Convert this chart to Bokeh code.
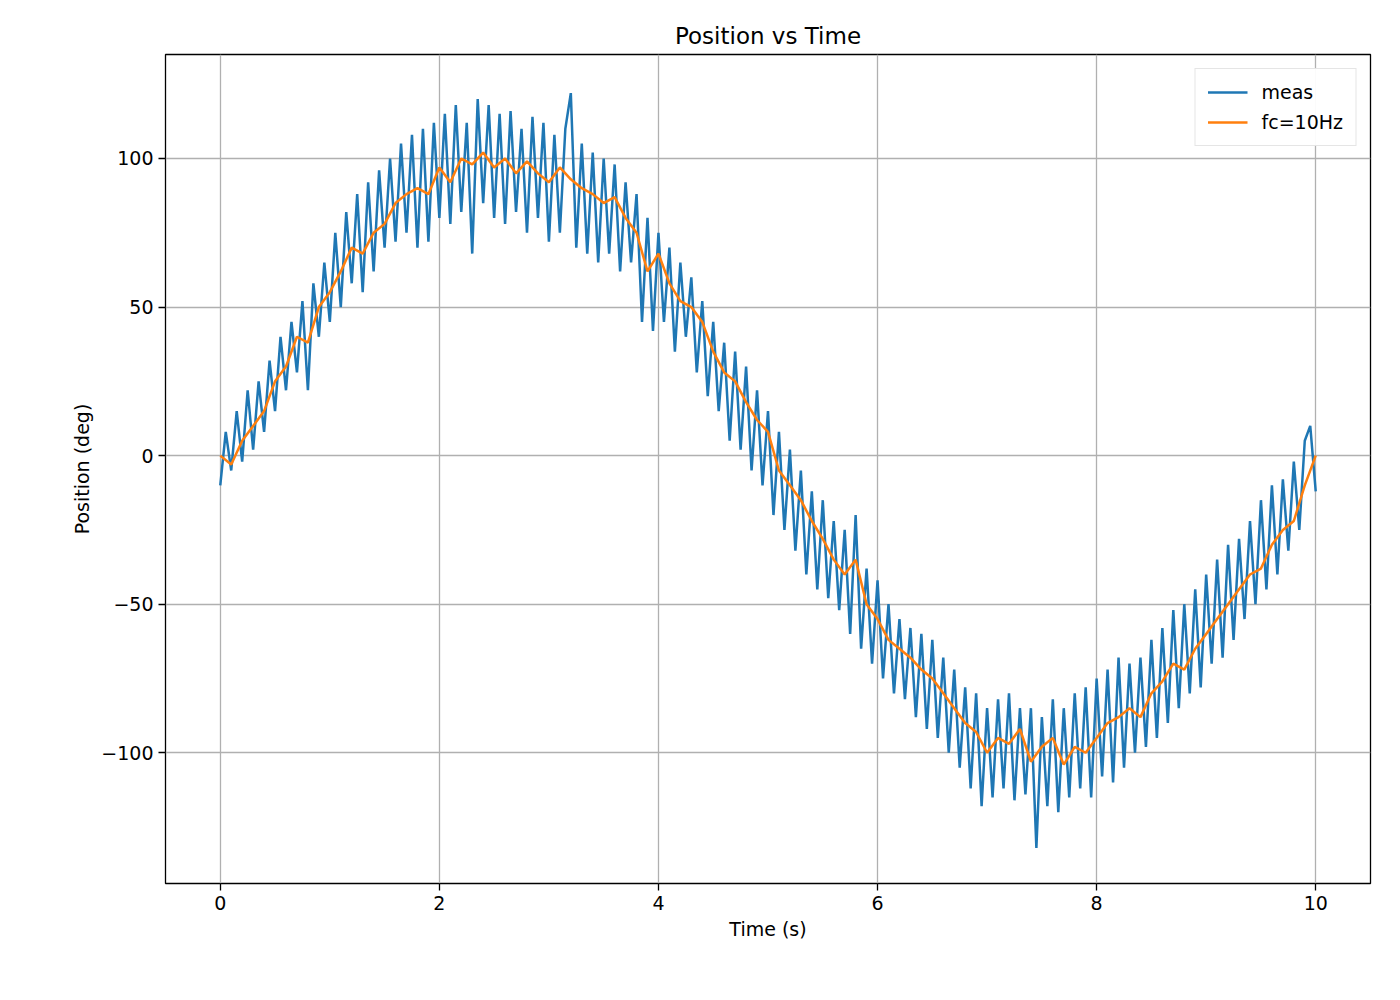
import numpy as np
from bokeh.plotting import figure
from bokeh.models import Legend, LegendItem
from bokeh.embed import file_html
from bokeh.resources import INLINE

meas = [-10, 8, -5, 15, -2, 22, 2, 25, 8, 32, 15, 40, 22, 45, 28, 52, 22, 58, 40, 65,
        45, 75, 50, 82, 58, 88, 55, 92, 62, 96, 70, 100, 72, 105, 75, 108, 70, 110, 72, 112,
        80, 115, 78, 118, 82, 112, 68, 120, 85, 118, 80, 115, 78, 116, 82, 110, 75, 114, 80, 112,
        72, 108, 75, 110, 122, 70, 105, 68, 102, 65, 100, 68, 98, 62, 92, 65, 88, 45, 80, 42,
        75, 45, 70, 35, 65, 40, 60, 28, 52, 20, 45, 15, 38, 5, 35, 2, 30, -5, 22, -10,
        15, -20, 8, -25, 2, -32, -5, -40, -12, -45, -15, -48, -22, -52, -25, -60, -20, -65, -38, -70,
        -42, -75, -50, -80, -55, -82, -58, -88, -60, -92, -62, -95, -68, -100, -72, -105, -78, -112, -80, -118,
        -85, -115, -82, -112, -80, -116, -85, -114, -85, -132, -88, -118, -82, -120, -85, -115, -80, -112, -78, -115,
        -75, -108, -72, -110, -68, -105, -70, -100, -68, -98, -62, -95, -58, -90, -52, -85, -50, -80, -45, -78,
        -40, -70, -35, -68, -30, -62, -28, -55, -22, -50, -15, -45, -10, -40, -8, -32, -2, -25, 5, 10,
        -12]

# low-pass filtered (fc=10Hz), sampled every 0.1 s
filt = [0, -3, 5, 10, 15, 25, 30, 40, 38, 50, 55, 62, 70, 68, 75, 78, 85, 88, 90, 88,
        97, 92, 100, 98, 102, 97, 100, 95, 99, 95, 92, 97, 93, 90, 88, 85, 87, 80, 75, 62,
        68, 58, 52, 50, 45, 35, 28, 25, 18, 12, 8, -5, -10, -15, -22, -28, -35, -40, -35, -50,
        -55, -62, -65, -68, -72, -75, -80, -85, -90, -93, -100, -95, -97, -92, -103, -98, -95, -104, -98, -100,
        -95, -90, -88, -85, -88, -80, -76, -70, -72, -65, -60, -55, -50, -45, -40, -38, -30, -25, -22, -10,
        0]

x_ticks = [0, 2, 4, 6, 8, 10]
y_ticks = [-100, -50, 0, 50, 100]

t_meas = np.linspace(0, 10, len(meas))
t_filt = np.linspace(0, 10, len(filt))

FONT = "DejaVu Sans"

p = figure(width=1384, height=984, x_range=(-0.5, 10.5), y_range=(-144, 135),
           output_backend="svg", toolbar_location=None,
           title="Position vs Time", min_border_left=165, min_border_right=14,
           min_border_bottom=101, min_border_top=54)
p.title.align = "center"
p.title.text_font = FONT
p.title.text_font_size = "23px"
p.title.text_font_style = "normal"
p.title.text_color = "black"
p.title.standoff = 12
p.outline_line_color = "black"
p.outline_line_width = 1.3

l1 = p.line(t_meas, meas, line_color="#1f77b4", line_width=2.5)
l2 = p.line(t_filt, filt, line_color="#ff7f0e", line_width=2.5)

legend = Legend(items=[LegendItem(label="meas", renderers=[l1]),
                       LegendItem(label="fc=10Hz", renderers=[l2])],
                location="top_right", label_text_font=FONT, label_text_font_size="19px",
                label_text_color="black", label_standoff=14,
                border_line_color="#cccccc", border_line_width=1.5, glyph_width=40,
                spacing=8, padding=12, margin=14)
p.add_layout(legend)

p.xaxis.ticker = x_ticks
p.yaxis.ticker = y_ticks
p.yaxis.major_label_overrides = {v: str(v).replace("-", "\u2212") for v in y_ticks}
p.xaxis.axis_label = "Time (s)"
p.yaxis.axis_label = "Position (deg)"
for ax in (p.xaxis, p.yaxis):
    ax.axis_label_text_font = FONT
    ax.axis_label_text_font_size = "19px"
    ax.axis_label_text_font_style = "normal"
    ax.axis_label_text_color = "black"
    ax.major_label_text_font = FONT
    ax.major_label_text_font_size = "19px"
    ax.major_label_text_color = "black"
    ax.minor_tick_line_color = None
    ax.major_tick_in = 0
    ax.major_tick_out = 7
    ax.major_tick_line_width = 1.3
    ax.major_tick_line_color = "black"
    ax.axis_line_color = None
p.grid.grid_line_color = "#b0b0b0"
p.grid.grid_line_width = 1.3

open("out.html", "w").write(file_html(p, INLINE))
